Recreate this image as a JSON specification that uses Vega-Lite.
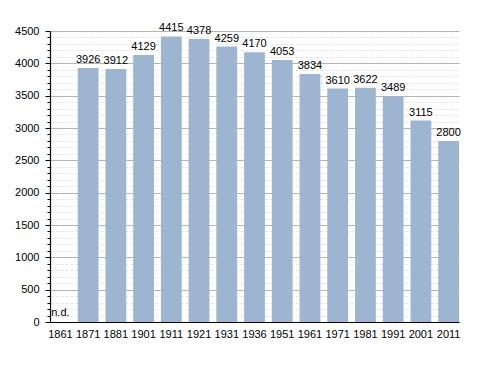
{
  "$schema": "https://vega.github.io/schema/vega-lite/v6.json",
  "width": 409,
  "height": 291,
  "autosize": "none",
  "padding": {"left": 50, "top": 31, "right": 29, "bottom": 51},
  "background": "white",
  "config": {
    "view": {"stroke": null},
    "font": "Liberation Sans",
    "axis": {"labelFont": "Liberation Sans", "labelFontSize": 11, "labelColor": "#000"}
  },
  "data": {
    "values": [
      {"year": "1861", "pop": null},
      {"year": "1871", "pop": 3926},
      {"year": "1881", "pop": 3912},
      {"year": "1901", "pop": 4129},
      {"year": "1911", "pop": 4415},
      {"year": "1921", "pop": 4378},
      {"year": "1931", "pop": 4259},
      {"year": "1936", "pop": 4170},
      {"year": "1951", "pop": 4053},
      {"year": "1961", "pop": 3834},
      {"year": "1971", "pop": 3610},
      {"year": "1981", "pop": 3622},
      {"year": "1991", "pop": 3489},
      {"year": "2001", "pop": 3115},
      {"year": "2011", "pop": 2800}
    ]
  },
  "encoding": {
    "x": {
      "field": "year", "type": "ordinal",
      "scale": {"domain": ["1861","1871","1881","1901","1911","1921","1931","1936","1951","1961","1971","1981","1991","2001","2011"], "paddingInner": 0.25, "paddingOuter": 0},
      "axis": {"title": null, "labelAngle": 0, "domainColor": "#000", "domainWidth": 1.2, "ticks": false, "labelPadding": 6}
    },
    "y": {
      "field": "pop", "type": "quantitative",
      "scale": {"domain": [0, 4500], "nice": false, "zero": true},
      "axis": {
        "title": null,
        "values": [0,100,200,300,400,500,600,700,800,900,1000,1100,1200,1300,1400,1500,1600,1700,1800,1900,2000,2100,2200,2300,2400,2500,2600,2700,2800,2900,3000,3100,3200,3300,3400,3500,3600,3700,3800,3900,4000,4100,4200,4300,4400,4500],
        "labelExpr": "datum.value % 500 === 0 ? datum.label : ''",
        "format": "d",
        "domainColor": "#000",
        "domainWidth": 1.2,
        "tickColor": "#000",
        "tickSize": {"condition": {"test": "datum.value % 500 === 0", "value": 5}, "value": 3},
        "labelPadding": 6,
        "grid": true,
        "gridColor": {"condition": {"test": "datum.value % 500 === 0", "value": "#b4b4b4"}, "value": "#e4e4e4"},
        "gridDash": {"condition": {"test": "datum.value % 500 === 0", "value": []}, "value": [3, 2]},
        "labelOverlap": false
      }
    }
  },
  "layer": [
    {
      "mark": {"type": "bar", "color": "#9db5d0"}
    },
    {
      "transform": [{"filter": "datum.pop != null"}],
      "mark": {"type": "text", "baseline": "bottom", "dy": -3, "fontSize": 11, "color": "#000"},
      "encoding": {
        "text": {"field": "pop", "type": "quantitative", "format": "d"}
      }
    },
    {
      "data": {"values": [{"year": "1861", "note": "n.d.", "pop": 0}]},
      "mark": {"type": "text", "baseline": "bottom", "dy": -4, "dx": 0, "fontSize": 11, "color": "#000"},
      "encoding": {
        "text": {"field": "note", "type": "nominal"}
      }
    }
  ]
}
